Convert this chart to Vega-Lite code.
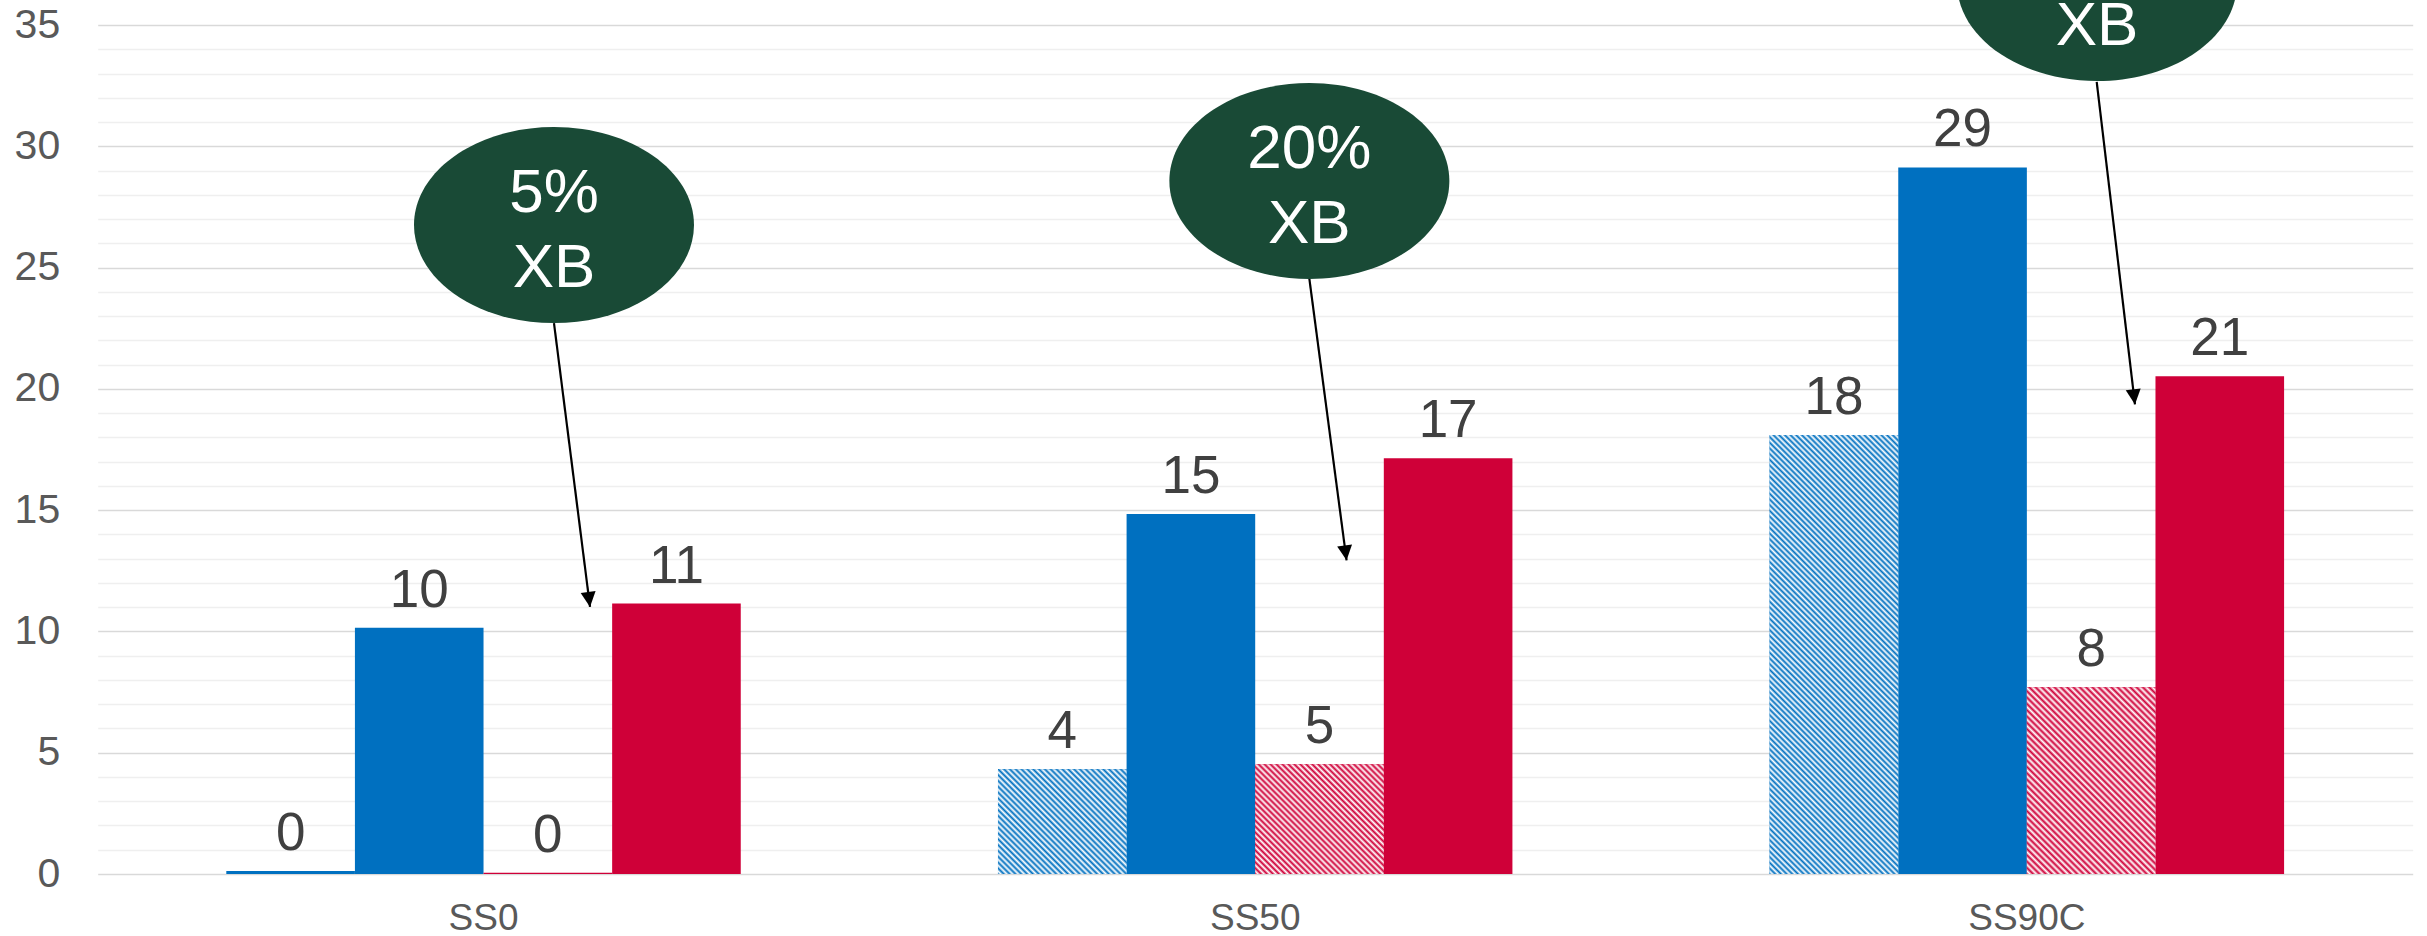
{
"$schema": "https://vega.github.io/schema/vega-lite/v6.json",
"width": 2315,
"height": 849,
"autosize": {"type": "none"},
"padding": {"left": 97.7, "top": 25, "right": 14.3, "bottom": 62},
"background": "white",
"config": {"font": "Liberation Sans", "view": {"stroke": null}},
"datasets": {
"bars": [
{"cat": "SS0", "series": "Series 1 (hatched)", "value": 0.12},
{"cat": "SS0", "series": "Series 1", "value": 10.15},
{"cat": "SS0", "series": "Series 2 (hatched)", "value": 0.05},
{"cat": "SS0", "series": "Series 2", "value": 11.15},
{"cat": "SS50", "series": "Series 1 (hatched)", "value": 4.32},
{"cat": "SS50", "series": "Series 1", "value": 14.84},
{"cat": "SS50", "series": "Series 2 (hatched)", "value": 4.52},
{"cat": "SS50", "series": "Series 2", "value": 17.14},
{"cat": "SS90C", "series": "Series 1 (hatched)", "value": 18.1},
{"cat": "SS90C", "series": "Series 1", "value": 29.13},
{"cat": "SS90C", "series": "Series 2 (hatched)", "value": 7.7},
{"cat": "SS90C", "series": "Series 2", "value": 20.52}
],
"ellipses": [
{"u": 0.5913, "y": 26.75, "lines": ["5%", "XB"]},
{"u": 1.5702, "y": 28.57, "lines": ["20%", "XB"]},
{"u": 2.5909, "y": 36.73, "lines": ["40%", "XB"]}
],
"arrows": [
{"u": 0.5913, "y": 22.71, "u2": 0.638, "y2": 11.01, "angle": -7.23},
{"u": 1.5702, "y": 24.53, "u2": 1.6184, "y2": 12.93, "angle": -7.53},
{"u": 2.5905, "y": 32.66, "u2": 2.6401, "y2": 19.36, "angle": -6.77}
]
},
"layer": [
{
"data": {"name": "bars"},
"encoding": {
"x": {"field": "cat", "type": "nominal", "sort": ["SS0", "SS50", "SS90C"], "title": null,
"scale": {"domain": ["SS0", "SS50", "SS90C"], "paddingInner": 0.33333, "paddingOuter": 0.166667},
"axis": {"title": null, "domain": false, "ticks": false, "tickSize": 0, "grid": false, "labelPadding": 26, "labelFontSize": 37, "labelColor": "#595959", "labelAngle": 0}},
"xOffset": {"field": "series", "type": "nominal",
"scale": {"domain": ["Series 1 (hatched)", "Series 1", "Series 2 (hatched)", "Series 2"], "paddingInner": 0, "paddingOuter": 0}},
"y": {"field": "value", "type": "quantitative", "title": null,
"scale": {"domain": [0, 35], "nice": false, "zero": true},
"axis": {"title": null, "values": [0,1,2,3,4,5,6,7,8,9,10,11,12,13,14,15,16,17,18,19,20,21,22,23,24,25,26,27,28,29,30,31,32,33,34,35],
"domain": false, "ticks": false, "tickSize": 0, "labelPadding": 38, "labelFontSize": 41, "labelColor": "#595959",
"labelOverlap": false, "labelFlush": false,
"labelExpr": "datum.value % 5 === 0 ? datum.label : ''",
"gridColor": {"condition": {"test": "datum.value % 5 === 0", "value": "#D9D9D9"}, "value": "#EFEFEF"},
"gridWidth": 1.5}}
},
"layer": [
{"mark": {"type": "bar", "opacity": 1, "strokeWidth": 0},
"encoding": {"color": {"field": "series", "type": "nominal", "legend": null,
"scale": {"domain": ["Series 1 (hatched)", "Series 1", "Series 2 (hatched)", "Series 2"], "range": ["#0070C0", "#0070C0", "#CF0038", "#CF0038"]}}}},
{"transform": [{"filter": "datum.cat === 'SS50' && datum.series === 'Series 1 (hatched)'"}],
"mark": {"type": "bar", "opacity": 1, "strokeWidth": 0, "fill": {"gradient": "linear", "x1": 0, "y1": 1, "x2": 1.09067, "y2": 0.11126, "stops": [
{"offset":0,"color":"#0070C0"},{"offset":0.0125,"color":"#FFFFFF"},{"offset":0.025,"color":"#0070C0"},{"offset":0.0375,"color":"#FFFFFF"},
{"offset":0.05,"color":"#0070C0"},{"offset":0.0625,"color":"#FFFFFF"},{"offset":0.075,"color":"#0070C0"},{"offset":0.0875,"color":"#FFFFFF"},
{"offset":0.1,"color":"#0070C0"},{"offset":0.1125,"color":"#FFFFFF"},{"offset":0.125,"color":"#0070C0"},{"offset":0.1375,"color":"#FFFFFF"},
{"offset":0.15,"color":"#0070C0"},{"offset":0.1625,"color":"#FFFFFF"},{"offset":0.175,"color":"#0070C0"},{"offset":0.1875,"color":"#FFFFFF"},
{"offset":0.2,"color":"#0070C0"},{"offset":0.2125,"color":"#FFFFFF"},{"offset":0.225,"color":"#0070C0"},{"offset":0.2375,"color":"#FFFFFF"},
{"offset":0.25,"color":"#0070C0"},{"offset":0.2625,"color":"#FFFFFF"},{"offset":0.275,"color":"#0070C0"},{"offset":0.2875,"color":"#FFFFFF"},
{"offset":0.3,"color":"#0070C0"},{"offset":0.3125,"color":"#FFFFFF"},{"offset":0.325,"color":"#0070C0"},{"offset":0.3375,"color":"#FFFFFF"},
{"offset":0.35,"color":"#0070C0"},{"offset":0.3625,"color":"#FFFFFF"},{"offset":0.375,"color":"#0070C0"},{"offset":0.3875,"color":"#FFFFFF"},
{"offset":0.4,"color":"#0070C0"},{"offset":0.4125,"color":"#FFFFFF"},{"offset":0.425,"color":"#0070C0"},{"offset":0.4375,"color":"#FFFFFF"},
{"offset":0.45,"color":"#0070C0"},{"offset":0.4625,"color":"#FFFFFF"},{"offset":0.475,"color":"#0070C0"},{"offset":0.4875,"color":"#FFFFFF"},
{"offset":0.5,"color":"#0070C0"},{"offset":0.5125,"color":"#FFFFFF"},{"offset":0.525,"color":"#0070C0"},{"offset":0.5375,"color":"#FFFFFF"},
{"offset":0.55,"color":"#0070C0"},{"offset":0.5625,"color":"#FFFFFF"},{"offset":0.575,"color":"#0070C0"},{"offset":0.5875,"color":"#FFFFFF"},
{"offset":0.6,"color":"#0070C0"},{"offset":0.6125,"color":"#FFFFFF"},{"offset":0.625,"color":"#0070C0"},{"offset":0.6375,"color":"#FFFFFF"},
{"offset":0.65,"color":"#0070C0"},{"offset":0.6625,"color":"#FFFFFF"},{"offset":0.675,"color":"#0070C0"},{"offset":0.6875,"color":"#FFFFFF"},
{"offset":0.7,"color":"#0070C0"},{"offset":0.7125,"color":"#FFFFFF"},{"offset":0.725,"color":"#0070C0"},{"offset":0.7375,"color":"#FFFFFF"},
{"offset":0.75,"color":"#0070C0"},{"offset":0.7625,"color":"#FFFFFF"},{"offset":0.775,"color":"#0070C0"},{"offset":0.7875,"color":"#FFFFFF"},
{"offset":0.8,"color":"#0070C0"},{"offset":0.8125,"color":"#FFFFFF"},{"offset":0.825,"color":"#0070C0"},{"offset":0.8375,"color":"#FFFFFF"},
{"offset":0.85,"color":"#0070C0"},{"offset":0.8625,"color":"#FFFFFF"},{"offset":0.875,"color":"#0070C0"},{"offset":0.8875,"color":"#FFFFFF"},
{"offset":0.9,"color":"#0070C0"},{"offset":0.9125,"color":"#FFFFFF"},{"offset":0.925,"color":"#0070C0"},{"offset":0.9375,"color":"#FFFFFF"},
{"offset":0.95,"color":"#0070C0"},{"offset":0.9625,"color":"#FFFFFF"},{"offset":0.975,"color":"#0070C0"},{"offset":0.9875,"color":"#FFFFFF"},
{"offset":1,"color":"#0070C0"}]}}},
{"transform": [{"filter": "datum.cat === 'SS50' && datum.series === 'Series 2 (hatched)'"}],
"mark": {"type": "bar", "opacity": 1, "strokeWidth": 0, "fill": {"gradient": "linear", "x1": 0, "y1": 1, "x2": 1.07278, "y2": 0.08538, "stops": [
{"offset":0,"color":"#CF0038"},{"offset":0.0125,"color":"#FFFFFF"},{"offset":0.025,"color":"#CF0038"},{"offset":0.0375,"color":"#FFFFFF"},
{"offset":0.05,"color":"#CF0038"},{"offset":0.0625,"color":"#FFFFFF"},{"offset":0.075,"color":"#CF0038"},{"offset":0.0875,"color":"#FFFFFF"},
{"offset":0.1,"color":"#CF0038"},{"offset":0.1125,"color":"#FFFFFF"},{"offset":0.125,"color":"#CF0038"},{"offset":0.1375,"color":"#FFFFFF"},
{"offset":0.15,"color":"#CF0038"},{"offset":0.1625,"color":"#FFFFFF"},{"offset":0.175,"color":"#CF0038"},{"offset":0.1875,"color":"#FFFFFF"},
{"offset":0.2,"color":"#CF0038"},{"offset":0.2125,"color":"#FFFFFF"},{"offset":0.225,"color":"#CF0038"},{"offset":0.2375,"color":"#FFFFFF"},
{"offset":0.25,"color":"#CF0038"},{"offset":0.2625,"color":"#FFFFFF"},{"offset":0.275,"color":"#CF0038"},{"offset":0.2875,"color":"#FFFFFF"},
{"offset":0.3,"color":"#CF0038"},{"offset":0.3125,"color":"#FFFFFF"},{"offset":0.325,"color":"#CF0038"},{"offset":0.3375,"color":"#FFFFFF"},
{"offset":0.35,"color":"#CF0038"},{"offset":0.3625,"color":"#FFFFFF"},{"offset":0.375,"color":"#CF0038"},{"offset":0.3875,"color":"#FFFFFF"},
{"offset":0.4,"color":"#CF0038"},{"offset":0.4125,"color":"#FFFFFF"},{"offset":0.425,"color":"#CF0038"},{"offset":0.4375,"color":"#FFFFFF"},
{"offset":0.45,"color":"#CF0038"},{"offset":0.4625,"color":"#FFFFFF"},{"offset":0.475,"color":"#CF0038"},{"offset":0.4875,"color":"#FFFFFF"},
{"offset":0.5,"color":"#CF0038"},{"offset":0.5125,"color":"#FFFFFF"},{"offset":0.525,"color":"#CF0038"},{"offset":0.5375,"color":"#FFFFFF"},
{"offset":0.55,"color":"#CF0038"},{"offset":0.5625,"color":"#FFFFFF"},{"offset":0.575,"color":"#CF0038"},{"offset":0.5875,"color":"#FFFFFF"},
{"offset":0.6,"color":"#CF0038"},{"offset":0.6125,"color":"#FFFFFF"},{"offset":0.625,"color":"#CF0038"},{"offset":0.6375,"color":"#FFFFFF"},
{"offset":0.65,"color":"#CF0038"},{"offset":0.6625,"color":"#FFFFFF"},{"offset":0.675,"color":"#CF0038"},{"offset":0.6875,"color":"#FFFFFF"},
{"offset":0.7,"color":"#CF0038"},{"offset":0.7125,"color":"#FFFFFF"},{"offset":0.725,"color":"#CF0038"},{"offset":0.7375,"color":"#FFFFFF"},
{"offset":0.75,"color":"#CF0038"},{"offset":0.7625,"color":"#FFFFFF"},{"offset":0.775,"color":"#CF0038"},{"offset":0.7875,"color":"#FFFFFF"},
{"offset":0.8,"color":"#CF0038"},{"offset":0.8125,"color":"#FFFFFF"},{"offset":0.825,"color":"#CF0038"},{"offset":0.8375,"color":"#FFFFFF"},
{"offset":0.85,"color":"#CF0038"},{"offset":0.8625,"color":"#FFFFFF"},{"offset":0.875,"color":"#CF0038"},{"offset":0.8875,"color":"#FFFFFF"},
{"offset":0.9,"color":"#CF0038"},{"offset":0.9125,"color":"#FFFFFF"},{"offset":0.925,"color":"#CF0038"},{"offset":0.9375,"color":"#FFFFFF"},
{"offset":0.95,"color":"#CF0038"},{"offset":0.9625,"color":"#FFFFFF"},{"offset":0.975,"color":"#CF0038"},{"offset":0.9875,"color":"#FFFFFF"},
{"offset":1,"color":"#CF0038"}]}}},
{"transform": [{"filter": "datum.cat === 'SS90C' && datum.series === 'Series 1 (hatched)'"}],
"mark": {"type": "bar", "opacity": 1, "strokeWidth": 0, "fill": {"gradient": "linear", "x1": 0, "y1": 1, "x2": 0.34878, "y2": -0.19075, "stops": [
{"offset":0,"color":"#0070C0"},{"offset":0.005,"color":"#FFFFFF"},{"offset":0.01,"color":"#0070C0"},{"offset":0.015,"color":"#FFFFFF"},
{"offset":0.02,"color":"#0070C0"},{"offset":0.025,"color":"#FFFFFF"},{"offset":0.03,"color":"#0070C0"},{"offset":0.035,"color":"#FFFFFF"},
{"offset":0.04,"color":"#0070C0"},{"offset":0.045,"color":"#FFFFFF"},{"offset":0.05,"color":"#0070C0"},{"offset":0.055,"color":"#FFFFFF"},
{"offset":0.06,"color":"#0070C0"},{"offset":0.065,"color":"#FFFFFF"},{"offset":0.07,"color":"#0070C0"},{"offset":0.075,"color":"#FFFFFF"},
{"offset":0.08,"color":"#0070C0"},{"offset":0.085,"color":"#FFFFFF"},{"offset":0.09,"color":"#0070C0"},{"offset":0.095,"color":"#FFFFFF"},
{"offset":0.1,"color":"#0070C0"},{"offset":0.105,"color":"#FFFFFF"},{"offset":0.11,"color":"#0070C0"},{"offset":0.115,"color":"#FFFFFF"},
{"offset":0.12,"color":"#0070C0"},{"offset":0.125,"color":"#FFFFFF"},{"offset":0.13,"color":"#0070C0"},{"offset":0.135,"color":"#FFFFFF"},
{"offset":0.14,"color":"#0070C0"},{"offset":0.145,"color":"#FFFFFF"},{"offset":0.15,"color":"#0070C0"},{"offset":0.155,"color":"#FFFFFF"},
{"offset":0.16,"color":"#0070C0"},{"offset":0.165,"color":"#FFFFFF"},{"offset":0.17,"color":"#0070C0"},{"offset":0.175,"color":"#FFFFFF"},
{"offset":0.18,"color":"#0070C0"},{"offset":0.185,"color":"#FFFFFF"},{"offset":0.19,"color":"#0070C0"},{"offset":0.195,"color":"#FFFFFF"},
{"offset":0.2,"color":"#0070C0"},{"offset":0.205,"color":"#FFFFFF"},{"offset":0.21,"color":"#0070C0"},{"offset":0.215,"color":"#FFFFFF"},
{"offset":0.22,"color":"#0070C0"},{"offset":0.225,"color":"#FFFFFF"},{"offset":0.23,"color":"#0070C0"},{"offset":0.235,"color":"#FFFFFF"},
{"offset":0.24,"color":"#0070C0"},{"offset":0.245,"color":"#FFFFFF"},{"offset":0.25,"color":"#0070C0"},{"offset":0.255,"color":"#FFFFFF"},
{"offset":0.26,"color":"#0070C0"},{"offset":0.265,"color":"#FFFFFF"},{"offset":0.27,"color":"#0070C0"},{"offset":0.275,"color":"#FFFFFF"},
{"offset":0.28,"color":"#0070C0"},{"offset":0.285,"color":"#FFFFFF"},{"offset":0.29,"color":"#0070C0"},{"offset":0.295,"color":"#FFFFFF"},
{"offset":0.3,"color":"#0070C0"},{"offset":0.305,"color":"#FFFFFF"},{"offset":0.31,"color":"#0070C0"},{"offset":0.315,"color":"#FFFFFF"},
{"offset":0.32,"color":"#0070C0"},{"offset":0.325,"color":"#FFFFFF"},{"offset":0.33,"color":"#0070C0"},{"offset":0.335,"color":"#FFFFFF"},
{"offset":0.34,"color":"#0070C0"},{"offset":0.345,"color":"#FFFFFF"},{"offset":0.35,"color":"#0070C0"},{"offset":0.355,"color":"#FFFFFF"},
{"offset":0.36,"color":"#0070C0"},{"offset":0.365,"color":"#FFFFFF"},{"offset":0.37,"color":"#0070C0"},{"offset":0.375,"color":"#FFFFFF"},
{"offset":0.38,"color":"#0070C0"},{"offset":0.385,"color":"#FFFFFF"},{"offset":0.39,"color":"#0070C0"},{"offset":0.395,"color":"#FFFFFF"},
{"offset":0.4,"color":"#0070C0"},{"offset":0.405,"color":"#FFFFFF"},{"offset":0.41,"color":"#0070C0"},{"offset":0.415,"color":"#FFFFFF"},
{"offset":0.42,"color":"#0070C0"},{"offset":0.425,"color":"#FFFFFF"},{"offset":0.43,"color":"#0070C0"},{"offset":0.435,"color":"#FFFFFF"},
{"offset":0.44,"color":"#0070C0"},{"offset":0.445,"color":"#FFFFFF"},{"offset":0.45,"color":"#0070C0"},{"offset":0.455,"color":"#FFFFFF"},
{"offset":0.46,"color":"#0070C0"},{"offset":0.465,"color":"#FFFFFF"},{"offset":0.47,"color":"#0070C0"},{"offset":0.475,"color":"#FFFFFF"},
{"offset":0.48,"color":"#0070C0"},{"offset":0.485,"color":"#FFFFFF"},{"offset":0.49,"color":"#0070C0"},{"offset":0.495,"color":"#FFFFFF"},
{"offset":0.5,"color":"#0070C0"},{"offset":0.505,"color":"#FFFFFF"},{"offset":0.51,"color":"#0070C0"},{"offset":0.515,"color":"#FFFFFF"},
{"offset":0.52,"color":"#0070C0"},{"offset":0.525,"color":"#FFFFFF"},{"offset":0.53,"color":"#0070C0"},{"offset":0.535,"color":"#FFFFFF"},
{"offset":0.54,"color":"#0070C0"},{"offset":0.545,"color":"#FFFFFF"},{"offset":0.55,"color":"#0070C0"},{"offset":0.555,"color":"#FFFFFF"},
{"offset":0.56,"color":"#0070C0"},{"offset":0.565,"color":"#FFFFFF"},{"offset":0.57,"color":"#0070C0"},{"offset":0.575,"color":"#FFFFFF"},
{"offset":0.58,"color":"#0070C0"},{"offset":0.585,"color":"#FFFFFF"},{"offset":0.59,"color":"#0070C0"},{"offset":0.595,"color":"#FFFFFF"},
{"offset":0.6,"color":"#0070C0"},{"offset":0.605,"color":"#FFFFFF"},{"offset":0.61,"color":"#0070C0"},{"offset":0.615,"color":"#FFFFFF"},
{"offset":0.62,"color":"#0070C0"},{"offset":0.625,"color":"#FFFFFF"},{"offset":0.63,"color":"#0070C0"},{"offset":0.635,"color":"#FFFFFF"},
{"offset":0.64,"color":"#0070C0"},{"offset":0.645,"color":"#FFFFFF"},{"offset":0.65,"color":"#0070C0"},{"offset":0.655,"color":"#FFFFFF"},
{"offset":0.66,"color":"#0070C0"},{"offset":0.665,"color":"#FFFFFF"},{"offset":0.67,"color":"#0070C0"},{"offset":0.675,"color":"#FFFFFF"},
{"offset":0.68,"color":"#0070C0"},{"offset":0.685,"color":"#FFFFFF"},{"offset":0.69,"color":"#0070C0"},{"offset":0.695,"color":"#FFFFFF"},
{"offset":0.7,"color":"#0070C0"},{"offset":0.705,"color":"#FFFFFF"},{"offset":0.71,"color":"#0070C0"},{"offset":0.715,"color":"#FFFFFF"},
{"offset":0.72,"color":"#0070C0"},{"offset":0.725,"color":"#FFFFFF"},{"offset":0.73,"color":"#0070C0"},{"offset":0.735,"color":"#FFFFFF"},
{"offset":0.74,"color":"#0070C0"},{"offset":0.745,"color":"#FFFFFF"},{"offset":0.75,"color":"#0070C0"},{"offset":0.755,"color":"#FFFFFF"},
{"offset":0.76,"color":"#0070C0"},{"offset":0.765,"color":"#FFFFFF"},{"offset":0.77,"color":"#0070C0"},{"offset":0.775,"color":"#FFFFFF"},
{"offset":0.78,"color":"#0070C0"},{"offset":0.785,"color":"#FFFFFF"},{"offset":0.79,"color":"#0070C0"},{"offset":0.795,"color":"#FFFFFF"},
{"offset":0.8,"color":"#0070C0"},{"offset":0.805,"color":"#FFFFFF"},{"offset":0.81,"color":"#0070C0"},{"offset":0.815,"color":"#FFFFFF"},
{"offset":0.82,"color":"#0070C0"},{"offset":0.825,"color":"#FFFFFF"},{"offset":0.83,"color":"#0070C0"},{"offset":0.835,"color":"#FFFFFF"},
{"offset":0.84,"color":"#0070C0"},{"offset":0.845,"color":"#FFFFFF"},{"offset":0.85,"color":"#0070C0"},{"offset":0.855,"color":"#FFFFFF"},
{"offset":0.86,"color":"#0070C0"},{"offset":0.865,"color":"#FFFFFF"},{"offset":0.87,"color":"#0070C0"},{"offset":0.875,"color":"#FFFFFF"},
{"offset":0.88,"color":"#0070C0"},{"offset":0.885,"color":"#FFFFFF"},{"offset":0.89,"color":"#0070C0"},{"offset":0.895,"color":"#FFFFFF"},
{"offset":0.9,"color":"#0070C0"},{"offset":0.905,"color":"#FFFFFF"},{"offset":0.91,"color":"#0070C0"},{"offset":0.915,"color":"#FFFFFF"},
{"offset":0.92,"color":"#0070C0"},{"offset":0.925,"color":"#FFFFFF"},{"offset":0.93,"color":"#0070C0"},{"offset":0.935,"color":"#FFFFFF"},
{"offset":0.94,"color":"#0070C0"},{"offset":0.945,"color":"#FFFFFF"},{"offset":0.95,"color":"#0070C0"},{"offset":0.955,"color":"#FFFFFF"},
{"offset":0.96,"color":"#0070C0"},{"offset":0.965,"color":"#FFFFFF"},{"offset":0.97,"color":"#0070C0"},{"offset":0.975,"color":"#FFFFFF"},
{"offset":0.98,"color":"#0070C0"},{"offset":0.985,"color":"#FFFFFF"},{"offset":0.99,"color":"#0070C0"},{"offset":0.995,"color":"#FFFFFF"},
{"offset":1,"color":"#0070C0"}]}}},
{"transform": [{"filter": "datum.cat === 'SS90C' && datum.series === 'Series 2 (hatched)'"}],
"mark": {"type": "bar", "opacity": 1, "strokeWidth": 0, "fill": {"gradient": "linear", "x1": 0, "y1": 1, "x2": 0.78868, "y2": -0.14549, "stops": [
{"offset":0,"color":"#CF0038"},{"offset":0.01,"color":"#FFFFFF"},{"offset":0.02,"color":"#CF0038"},{"offset":0.03,"color":"#FFFFFF"},
{"offset":0.04,"color":"#CF0038"},{"offset":0.05,"color":"#FFFFFF"},{"offset":0.06,"color":"#CF0038"},{"offset":0.07,"color":"#FFFFFF"},
{"offset":0.08,"color":"#CF0038"},{"offset":0.09,"color":"#FFFFFF"},{"offset":0.1,"color":"#CF0038"},{"offset":0.11,"color":"#FFFFFF"},
{"offset":0.12,"color":"#CF0038"},{"offset":0.13,"color":"#FFFFFF"},{"offset":0.14,"color":"#CF0038"},{"offset":0.15,"color":"#FFFFFF"},
{"offset":0.16,"color":"#CF0038"},{"offset":0.17,"color":"#FFFFFF"},{"offset":0.18,"color":"#CF0038"},{"offset":0.19,"color":"#FFFFFF"},
{"offset":0.2,"color":"#CF0038"},{"offset":0.21,"color":"#FFFFFF"},{"offset":0.22,"color":"#CF0038"},{"offset":0.23,"color":"#FFFFFF"},
{"offset":0.24,"color":"#CF0038"},{"offset":0.25,"color":"#FFFFFF"},{"offset":0.26,"color":"#CF0038"},{"offset":0.27,"color":"#FFFFFF"},
{"offset":0.28,"color":"#CF0038"},{"offset":0.29,"color":"#FFFFFF"},{"offset":0.3,"color":"#CF0038"},{"offset":0.31,"color":"#FFFFFF"},
{"offset":0.32,"color":"#CF0038"},{"offset":0.33,"color":"#FFFFFF"},{"offset":0.34,"color":"#CF0038"},{"offset":0.35,"color":"#FFFFFF"},
{"offset":0.36,"color":"#CF0038"},{"offset":0.37,"color":"#FFFFFF"},{"offset":0.38,"color":"#CF0038"},{"offset":0.39,"color":"#FFFFFF"},
{"offset":0.4,"color":"#CF0038"},{"offset":0.41,"color":"#FFFFFF"},{"offset":0.42,"color":"#CF0038"},{"offset":0.43,"color":"#FFFFFF"},
{"offset":0.44,"color":"#CF0038"},{"offset":0.45,"color":"#FFFFFF"},{"offset":0.46,"color":"#CF0038"},{"offset":0.47,"color":"#FFFFFF"},
{"offset":0.48,"color":"#CF0038"},{"offset":0.49,"color":"#FFFFFF"},{"offset":0.5,"color":"#CF0038"},{"offset":0.51,"color":"#FFFFFF"},
{"offset":0.52,"color":"#CF0038"},{"offset":0.53,"color":"#FFFFFF"},{"offset":0.54,"color":"#CF0038"},{"offset":0.55,"color":"#FFFFFF"},
{"offset":0.56,"color":"#CF0038"},{"offset":0.57,"color":"#FFFFFF"},{"offset":0.58,"color":"#CF0038"},{"offset":0.59,"color":"#FFFFFF"},
{"offset":0.6,"color":"#CF0038"},{"offset":0.61,"color":"#FFFFFF"},{"offset":0.62,"color":"#CF0038"},{"offset":0.63,"color":"#FFFFFF"},
{"offset":0.64,"color":"#CF0038"},{"offset":0.65,"color":"#FFFFFF"},{"offset":0.66,"color":"#CF0038"},{"offset":0.67,"color":"#FFFFFF"},
{"offset":0.68,"color":"#CF0038"},{"offset":0.69,"color":"#FFFFFF"},{"offset":0.7,"color":"#CF0038"},{"offset":0.71,"color":"#FFFFFF"},
{"offset":0.72,"color":"#CF0038"},{"offset":0.73,"color":"#FFFFFF"},{"offset":0.74,"color":"#CF0038"},{"offset":0.75,"color":"#FFFFFF"},
{"offset":0.76,"color":"#CF0038"},{"offset":0.77,"color":"#FFFFFF"},{"offset":0.78,"color":"#CF0038"},{"offset":0.79,"color":"#FFFFFF"},
{"offset":0.8,"color":"#CF0038"},{"offset":0.81,"color":"#FFFFFF"},{"offset":0.82,"color":"#CF0038"},{"offset":0.83,"color":"#FFFFFF"},
{"offset":0.84,"color":"#CF0038"},{"offset":0.85,"color":"#FFFFFF"},{"offset":0.86,"color":"#CF0038"},{"offset":0.87,"color":"#FFFFFF"},
{"offset":0.88,"color":"#CF0038"},{"offset":0.89,"color":"#FFFFFF"},{"offset":0.9,"color":"#CF0038"},{"offset":0.91,"color":"#FFFFFF"},
{"offset":0.92,"color":"#CF0038"},{"offset":0.93,"color":"#FFFFFF"},{"offset":0.94,"color":"#CF0038"},{"offset":0.95,"color":"#FFFFFF"},
{"offset":0.96,"color":"#CF0038"},{"offset":0.97,"color":"#FFFFFF"},{"offset":0.98,"color":"#CF0038"},{"offset":0.99,"color":"#FFFFFF"},
{"offset":1,"color":"#CF0038"}]}}},
{"mark": {"type": "text", "fontSize": 53, "color": "#404040", "baseline": "alphabetic", "align": "center", "dy": -21, "opacity": 1},
"encoding": {"text": {"field": "value", "type": "quantitative", "format": ".0f"}}}
]
},
{
"layer": [
{"data": {"name": "arrows"},
"mark": {"type": "rule", "color": "#000000", "strokeWidth": 2.2, "opacity": 1},
"encoding": {
"x": {"field": "u", "type": "quantitative", "scale": {"domain": [0, 3], "nice": false, "zero": false}, "axis": null},
"x2": {"field": "u2"},
"y": {"field": "y", "type": "quantitative", "scale": {"domain": [0, 35], "nice": false}, "axis": null},
"y2": {"field": "y2"}}},
{"data": {"name": "arrows"},
"mark": {"type": "point", "shape": "M0,0 L-0.5,-1 L0.5,-1 Z", "size": 900, "filled": true, "color": "#000000", "opacity": 1, "strokeWidth": 0},
"encoding": {
"x": {"field": "u2", "type": "quantitative", "scale": {"domain": [0, 3], "nice": false, "zero": false}, "axis": null},
"y": {"field": "y2", "type": "quantitative", "scale": {"domain": [0, 35], "nice": false}, "axis": null},
"angle": {"field": "angle", "type": "quantitative", "scale": null}}},
{"data": {"name": "ellipses"},
"mark": {"type": "point", "shape": "M-1,0 C-1,-0.3866 -0.5523,-0.7 0,-0.7 C0.5523,-0.7 1,-0.3866 1,0 C1,0.3866 0.5523,0.7 0,0.7 C-0.5523,0.7 -1,0.3866 -1,0 Z", "size": 78400, "filled": true, "color": "#194A36", "opacity": 1, "strokeWidth": 0},
"encoding": {
"x": {"field": "u", "type": "quantitative", "scale": {"domain": [0, 3], "nice": false, "zero": false}, "axis": null},
"y": {"field": "y", "type": "quantitative", "scale": {"domain": [0, 35], "nice": false}, "axis": null}}},
{"data": {"name": "ellipses"},
"mark": {"type": "text", "fontSize": 62, "lineHeight": 75, "color": "#FFFFFF", "align": "center", "baseline": "middle", "dy": -32, "opacity": 1},
"encoding": {
"x": {"field": "u", "type": "quantitative", "scale": {"domain": [0, 3], "nice": false, "zero": false}, "axis": null},
"y": {"field": "y", "type": "quantitative", "scale": {"domain": [0, 35], "nice": false}, "axis": null},
"text": {"field": "lines"}}}
]
}
],
"resolve": {"scale": {"x": "independent"}, "axis": {"x": "independent", "y": "independent"}}
}
